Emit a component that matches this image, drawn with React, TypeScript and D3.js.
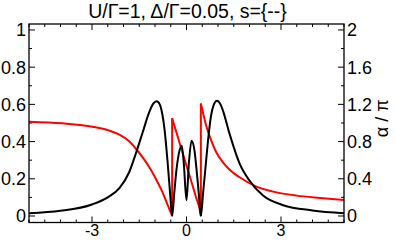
import * as React from "react";
import * as d3 from "d3";

// black curve, left axis
const specX = [-5, -4, -3, -2.5, -2.13, -1.82, -1.6, -1.39, -1.18, -1.05, -0.945, -0.85, -0.76, -0.7, -0.6, -0.52, -0.456, -0.39, -0.33, -0.25, -0.15, -0.085, 0, 0.074, 0.16, 0.255, 0.33, 0.39, 0.456, 0.53, 0.6, 0.68, 0.78, 0.87, 0.966, 1.08, 1.16, 1.37, 1.69, 2.0, 2.43, 3.07, 4.0, 5.0];
const specY = [0.015, 0.028, 0.062, 0.1, 0.15, 0.235, 0.34, 0.45, 0.56, 0.605, 0.617, 0.6, 0.54, 0.47, 0.29, 0.12, 0.0, 0.12, 0.23, 0.33, 0.378, 0.28, 0.085, 0.28, 0.405, 0.35, 0.23, 0.12, 0.0, 0.13, 0.255, 0.4, 0.54, 0.6, 0.62, 0.6, 0.565, 0.44, 0.28, 0.19, 0.11, 0.058, 0.03, 0.015];

// red curve (alpha / pi), right axis, three branches
const phaseX1 = [-5, -3.94, -2.98, -2.45, -2.13, -1.82, -1.6, -1.39, -1.18, -0.97, -0.76, -0.59, -0.5, -0.456];
const phaseY1 = [1.014, 0.996, 0.96, 0.918, 0.874, 0.803, 0.72, 0.63, 0.523, 0.398, 0.254, 0.111, 0.04, 0];
const phaseX2 = [-0.456, -0.382, -0.276, -0.17, 0, 0.149, 0.308, 0.414, 0.456];
const phaseY2 = [1.05, 0.968, 0.849, 0.731, 0.541, 0.376, 0.197, 0.079, 0];
const phaseX3 = [0.456, 0.52, 0.626, 0.786, 0.945, 1.157, 1.369, 1.688, 2.219, 2.856, 3.493, 4.236, 5.03];
const phaseY3 = [1.21, 1.115, 0.97, 0.81, 0.685, 0.577, 0.498, 0.416, 0.315, 0.254, 0.219, 0.194, 0.172];

const xTickLabels = [-3, 0, 3];
const yLeftTicks = ["0", "0.2", "0.4", "0.6", "0.8", "1"];
const yRightTicks = ["0", "0.4", "0.8", "1.2", "1.6", "2"];

const title = "U/\u0393=1, \u0394/\u0393=0.05, s={--}";
const rightLabel = "\u03b1 / \u03c0";

export default function App() {
  const width = 395;
  const height = 240;
  const left = 29;
  const right = 344;
  const top = 24;
  const bottom = 222.5;
  const font = "'Liberation Sans', Arial, Helvetica, sans-serif";

  const x = d3.scaleLinear().domain([-5, 5]).range([left, right]);
  const yL = d3.scaleLinear().domain([-0.035, 1.032]).range([bottom, top]);
  const yR = d3.scaleLinear().domain([-0.07, 2.064]).range([bottom, top]);

  const lineL = d3
    .line<[number, number]>()
    .x((d) => x(d[0]))
    .y((d) => yL(d[1]))
    .curve(d3.curveMonotoneX);
  const lineR = d3
    .line<[number, number]>()
    .x((d) => x(d[0]))
    .y((d) => yR(d[1]))
    .curve(d3.curveMonotoneX);

  const spec = specX.map((v, i) => [v, specY[i]] as [number, number]);
  const branches = [
    [phaseX1, phaseY1],
    [phaseX2, phaseY2],
    [phaseX3, phaseY3],
  ].map(([xs, ys]) => xs.map((v, i) => [v, ys[i]] as [number, number]));

  const jumps = [
    [branches[0][branches[0].length - 1], branches[1][0]],
    [branches[1][branches[1].length - 1], branches[2][0]],
  ];

  const xTicks = d3.range(-5, 5.001, 0.5);
  const yMinor = d3.range(0, 1.001, 0.1);

  return (
    <svg
      width={width}
      height={height}
      style={{ position: "absolute", left: 0, top: 0, background: "#fff" }}
      fontFamily={font}
    >
      <defs>
        <clipPath id="plot">
          <rect x={left} y={top} width={right - left} height={bottom - top} />
        </clipPath>
      </defs>

      <text x={(left + right) / 2 + 1} y={18} textAnchor="middle" fontSize={19.5}>
        {title}
      </text>

      {/* ticks */}
      <g stroke="#000" strokeWidth={1}>
        {xTicks.map((t, i) => {
          const major = Math.abs(t % 3) < 1e-6;
          const len = major ? 6 : 3;
          return (
            <g key={i}>
              <line x1={x(t)} x2={x(t)} y1={bottom} y2={bottom - len} />
              <line x1={x(t)} x2={x(t)} y1={top} y2={top + len} />
            </g>
          );
        })}
        {yMinor.map((t, i) => {
          const len = i % 2 === 0 ? 6 : 3;
          return (
            <g key={i}>
              <line x1={left} x2={left + len} y1={yL(t)} y2={yL(t)} />
              <line x1={right} x2={right - len} y1={yL(t)} y2={yL(t)} />
            </g>
          );
        })}
      </g>

      <g clipPath="url(#plot)" fill="none" strokeWidth={2}>
        {branches.map((b, i) => (
          <path key={i} d={lineR(b) || ""} stroke="#ff0000" />
        ))}
        {jumps.map(([a, b], i) => (
          <line key={i} x1={x(a[0])} x2={x(b[0])} y1={yR(a[1])} y2={yR(b[1])} stroke="#ff0000" />
        ))}
        <path d={lineL(spec) || ""} stroke="#000" strokeLinejoin="round" />
      </g>

      <rect
        x={left}
        y={top}
        width={right - left}
        height={bottom - top}
        fill="none"
        stroke="#000"
        strokeWidth={1.3}
      />

      <g fontSize={18}>
        {yLeftTicks.map((s) => (
          <text key={s} x={left - 3} y={yL(+s)} dy="0.36em" textAnchor="end">
            {s}
          </text>
        ))}
        {yRightTicks.map((s) => (
          <text key={s} x={right + 3} y={yR(+s)} dy="0.36em" textAnchor="start">
            {s}
          </text>
        ))}
        {xTickLabels.map((t) => (
          <text key={t} x={x(t)} y={236} textAnchor="middle" fontSize={16}>
            {String(t)}
          </text>
        ))}
        <text
          transform={`translate(${382},${(top + bottom) / 2 - 5}) rotate(-90)`}
          textAnchor="middle"
          dy="0.35em"
        >
          {rightLabel}
        </text>
      </g>
    </svg>
  );
}
